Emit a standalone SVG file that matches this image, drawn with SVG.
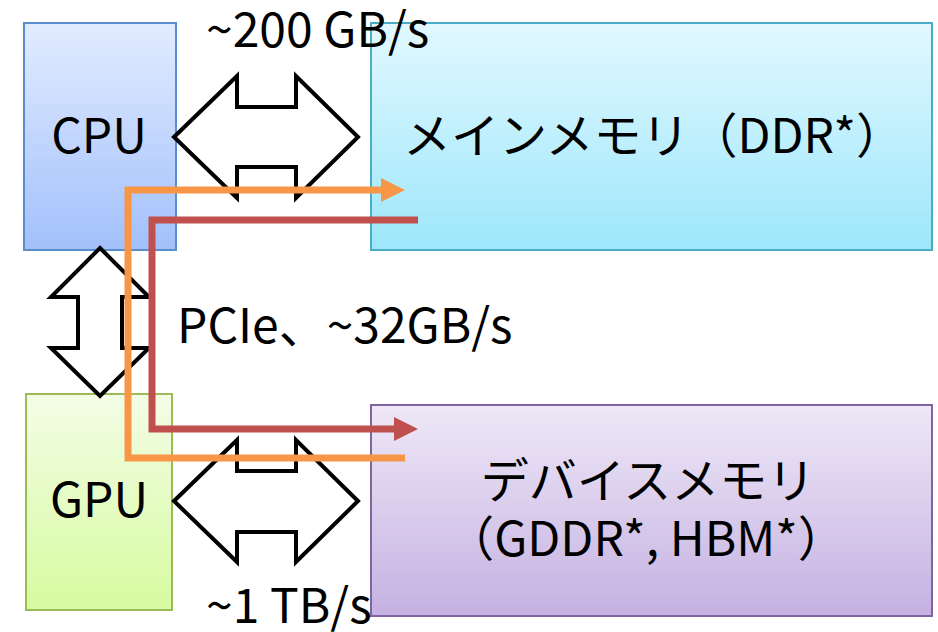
<svg xmlns="http://www.w3.org/2000/svg" width="938" height="632" viewBox="0 0 938 632">
  <defs>
    <linearGradient id="gCpu" x1="0" y1="0" x2="0" y2="1">
      <stop offset="0" stop-color="#e2ecff"/>
      <stop offset="1" stop-color="#a2c0fb"/>
    </linearGradient>
    <linearGradient id="gMain" x1="0" y1="0" x2="0" y2="1">
      <stop offset="0" stop-color="#e2f8ff"/>
      <stop offset="1" stop-color="#9de7fb"/>
    </linearGradient>
    <linearGradient id="gGpu" x1="0" y1="0" x2="0" y2="1">
      <stop offset="0" stop-color="#f3fde6"/>
      <stop offset="1" stop-color="#d7fb9f"/>
    </linearGradient>
    <linearGradient id="gDev" x1="0" y1="0" x2="0" y2="1">
      <stop offset="0" stop-color="#eee8f7"/>
      <stop offset="1" stop-color="#c5b1e2"/>
    </linearGradient>
    <marker id="headOrange" viewBox="0 0 24 24" refX="0" refY="12" markerWidth="24" markerHeight="24" markerUnits="userSpaceOnUse" orient="auto">
      <path d="M0,0 L24,12 L0,24 Z" fill="#f79646"/>
    </marker>
    <marker id="headRed" viewBox="0 0 24 24" refX="0" refY="12" markerWidth="24" markerHeight="24" markerUnits="userSpaceOnUse" orient="auto">
      <path d="M0,0 L24,12 L0,24 Z" fill="#c0504d"/>
    </marker>
  </defs>
  <style>
    text { font-family: "Noto Sans CJK JP", "Noto Sans", sans-serif; font-size: 48px; fill: #000; }
    .bus { fill: #fff; stroke: #000; stroke-width: 4; stroke-linejoin: miter; }
    .path { fill: none; stroke-width: 7; stroke-linejoin: miter; stroke-linecap: butt; }
  </style>

  <!-- units -->
  <g id="cpu">
    <rect x="24" y="23" width="152" height="227" fill="url(#gCpu)" stroke="#5b8ccc" stroke-width="2"/>
    <text x="99" y="153" text-anchor="middle">CPU</text>
  </g>
  <g id="gpu">
    <rect x="26" y="394" width="146" height="216" fill="url(#gGpu)" stroke="#9bbb59" stroke-width="2"/>
    <text x="99" y="517" text-anchor="middle">GPU</text>
  </g>
  <g id="main-memory">
    <rect x="371" y="23" width="561" height="227" fill="url(#gMain)" stroke="#4bacc6" stroke-width="2"/>
    <text x="403" y="153">メインメモリ（DDR*）</text>
  </g>
  <g id="device-memory">
    <rect x="371" y="405" width="561" height="211" fill="url(#gDev)" stroke="#8064a2" stroke-width="2"/>
    <text x="648" y="498" text-anchor="middle">デバイスメモリ</text>
    <text x="646" y="556" text-anchor="middle">（GDDR*, HBM*）</text>
  </g>

  <!-- buses and data paths -->
  <g id="connectors">
    <polygon class="bus" points="174,137 237,76 237,107 296,107 296,76 358,137 296,198 296,167 237,167 237,198"/>
    <polygon class="bus" points="174,501 237,440 237,471 296,471 296,440 358,501 296,562 296,532 237,532 237,562"/>
    <polygon class="bus" points="100,248 149,297 122,297 122,348 149,348 100,396 51,348 78,348 78,297 51,297"/>
    <path class="path" stroke="#f79646" d="M405,458 L128,458 L128,190 L381,190" marker-end="url(#headOrange)"/>
    <path class="path" stroke="#c0504d" d="M418,220 L152,220 L152,429 L394,429" marker-end="url(#headRed)"/>
  </g>

  <!-- bandwidth labels -->
  <g id="labels">
    <text x="206" y="47">~200 GB/s</text>
    <text x="177" y="343">PCIe、~32GB/s</text>
    <text x="206" y="623">~1 TB/s</text>
  </g>
</svg>
